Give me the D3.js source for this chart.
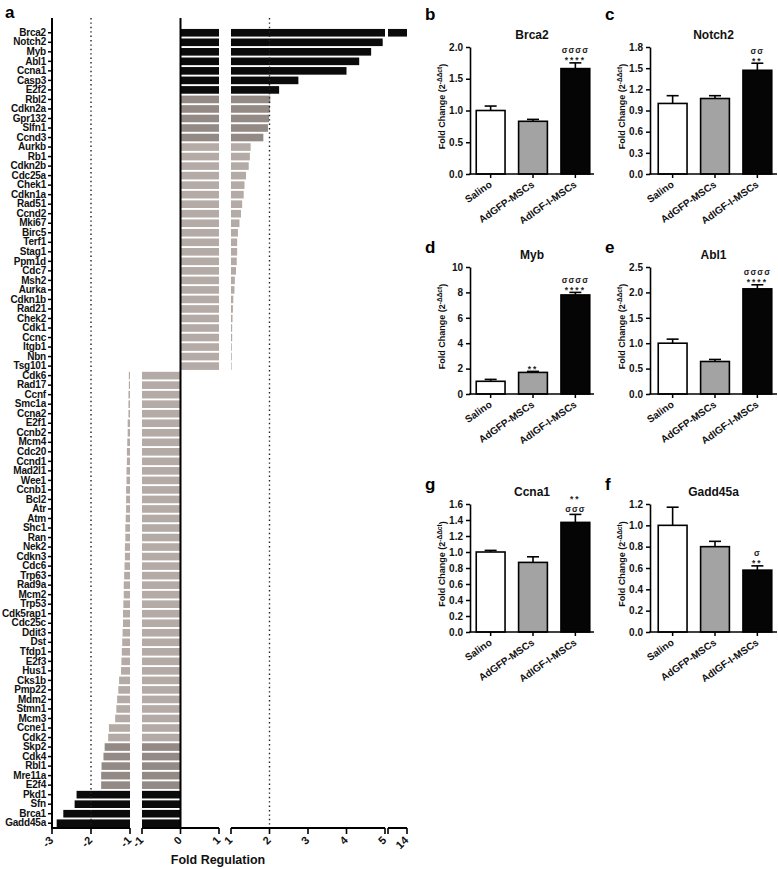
<!DOCTYPE html>
<html><head><meta charset="utf-8">
<script src="https://cdn.jsdelivr.net/npm/d3@7"></script>
<style>
body{margin:0;background:#fff;}
svg{display:block;font-family:"Liberation Sans",Arial,sans-serif;}
</style></head><body>
<svg id="c" width="778" height="869"></svg>
<script>
// ---------- Panel a data ----------
const upGenes = ["Brca2","Notch2","Myb","Abl1","Ccna1","Casp3","E2f2","Rbl2","Cdkn2a","Gpr132","Slfn1","Ccnd3","Aurkb","Rb1","Cdkn2b","Cdc25a","Chek1","Cdkn1a","Rad51","Ccnd2","Mki67","Birc5","Terf1","Stag1","Ppm1d","Cdc7","Msh2","Aurka","Cdkn1b","Rad21","Chek2","Cdk1","Ccnc","Itgb1","Nbn","Tsg101"];
const upValues = [14.0,4.94,4.64,4.33,4.0,2.75,2.25,2.02,2.01,1.99,1.96,1.84,1.51,1.49,1.46,1.39,1.35,1.33,1.29,1.26,1.22,1.18,1.16,1.16,1.15,1.13,1.10,1.09,1.06,1.05,1.04,1.03,1.03,1.02,1.02,1.01];
const downGenes = ["Cdk6","Rad17","Ccnf","Smc1a","Ccna2","E2f1","Ccnb2","Mcm4","Cdc20","Ccnd1","Mad2l1","Wee1","Ccnb1","Bcl2","Atr","Atm","Shc1","Ran","Nek2","Cdkn3","Cdc6","Trp63","Rad9a","Mcm2","Trp53","Cdk5rap1","Cdc25c","Ddit3","Dst","Tfdp1","E2f3","Hus1","Cks1b","Pmp22","Mdm2","Stmn1","Mcm3","Ccne1","Cdk2","Skp2","Cdk4","Rbl1","Mre11a","E2f4","Pkd1","Sfn","Brca1","Gadd45a"];
const downValues = [-1.03,-1.03,-1.04,-1.04,-1.04,-1.06,-1.06,-1.07,-1.08,-1.08,-1.09,-1.09,-1.10,-1.10,-1.10,-1.11,-1.12,-1.12,-1.13,-1.13,-1.14,-1.15,-1.16,-1.16,-1.17,-1.18,-1.18,-1.19,-1.20,-1.21,-1.22,-1.23,-1.28,-1.30,-1.33,-1.35,-1.38,-1.54,-1.56,-1.65,-1.68,-1.73,-1.74,-1.74,-2.37,-2.42,-2.71,-2.88];
const segL1Ticks = [-3,-2,-1];
const segL2Ticks = [-1,0,1];
const segR1Ticks = [1,2,3,4,5];
const segR2Ticks = [14];

// ---------- Bar panels data ----------
const groups = ["Salino","AdGFP-MSCs","AdIGF-I-MSCs"];
const brca2Mean = [1.00,0.83,1.66],  brca2Err = [0.07,0.03,0.09];
const notch2Mean = [1.00,1.07,1.47], notch2Err = [0.11,0.04,0.10];
const mybMean = [1.00,1.70,7.80],    mybErr = [0.15,0.08,0.20];
const abl1Mean = [1.00,0.64,2.07],   abl1Err = [0.08,0.04,0.08];
const ccna1Mean = [1.00,0.87,1.37],  ccna1Err = [0.02,0.07,0.10];
const gadd45aMean = [1.00,0.80,0.58],gadd45aErr = [0.17,0.05,0.04];
const brca2Notes = [[],[],["σσσσ","****"]];
const notch2Notes = [[],[],["σσ","**"]];
const mybNotes = [[],["**"],["σσσσ","****"]];
const abl1Notes = [[],[],["σσσσ","****"]];
const ccna1Notes = [[],[],["**","σσσ"]];
const gadd45aNotes = [[],[],["σ","**"]];

const svg = d3.select("#c");

// ================= Panel a =================
const genes = upGenes.concat(downGenes);
const values = upValues.concat(downValues);
const rows = genes.map((g,i)=>({gene:g,value:values[i]}));
const y = d3.scaleBand().domain(genes).range([28,828]).paddingInner(0.2).paddingOuter(0.1);
const xL1 = d3.scaleLinear().domain([-3,-1]).range([52,130]);
const xL2 = d3.scaleLinear().domain([-1,1]).range([142,219]);
const xR1 = d3.scaleLinear().domain([1,5]).range([231,385]);
const xR2 = d3.scaleLinear().domain([13.5,14]).range([388,407]);
const shade = v => Math.abs(v) > 2.1 ? "#0b0b0b" : (Math.abs(v) > 1.6 ? "#938a86" : "#b4aba7");
const axisY = 828;
const gA = svg.append("g");

const pieces = [];
rows.forEach(r=>{
  const v = r.value;
  if (v > 0) {
    pieces.push({r, s:xL2, a:0, b:Math.min(v,1)});
    if (v > 1) pieces.push({r, s:xR1, a:1, b:Math.min(v,5)});
    if (v > 13.5) pieces.push({r, s:xR2, a:13.5, b:Math.min(v,14)});
  } else {
    pieces.push({r, s:xL2, a:Math.max(v,-1), b:0});
    if (v < -1) pieces.push({r, s:xL1, a:Math.max(v,-3), b:-1});
  }
});
gA.selectAll("rect.bar").data(pieces).join("rect")
  .attr("x", d=>d.s(d.a)).attr("width", d=>Math.max(0.6, d.s(d.b)-d.s(d.a)))
  .attr("y", d=>y(d.r.gene)).attr("height", y.bandwidth())
  .attr("fill", d=>shade(d.r.value));

// dotted lines at -2 and 2
[[xL1,-2],[xR1,2]].forEach(([s,v])=>{
  gA.append("line").attr("x1",s(v)).attr("x2",s(v)).attr("y1",18).attr("y2",axisY)
    .attr("stroke","#222").attr("stroke-width",1.4).attr("stroke-dasharray","1.4,3");
});
// zero line
gA.append("line").attr("x1",xL2(0)).attr("x2",xL2(0)).attr("y1",18).attr("y2",axisY)
  .attr("stroke","#000").attr("stroke-width",2);

// y axis
const yAx = gA.append("g").attr("transform","translate(52,0)")
  .call(d3.axisLeft(y).tickSize(4).tickPadding(2).tickSizeOuter(0));
yAx.select(".domain").remove();
yAx.selectAll(".tick line").attr("stroke","#000").attr("stroke-width",1.5);
yAx.selectAll(".tick text").attr("font-size","10px").attr("font-weight","bold")
  .attr("letter-spacing","-0.2px").attr("fill","#111").attr("font-family","Liberation Sans, Arial, sans-serif");
gA.append("line").attr("x1",52).attr("x2",52).attr("y1",18).attr("y2",axisY+1)
  .attr("stroke","#000").attr("stroke-width",2);

// x axis segments
function seg(s, ticks, extra){
  const g = gA.append("g").attr("transform",`translate(0,${axisY})`);
  g.append("line").attr("x1",s.range()[0]).attr("x2",s.range()[1]).attr("stroke","#000").attr("stroke-width",2);
  const tv = ticks.concat(extra||[]);
  g.selectAll("line.t").data(tv).join("line").attr("x1",d=>s(d)).attr("x2",d=>s(d))
    .attr("y1",0).attr("y2",6).attr("stroke","#000").attr("stroke-width",1.6);
  g.selectAll("text").data(ticks).join("text")
    .attr("transform",d=>`translate(${s(d)+2},13) rotate(-45)`)
    .attr("text-anchor","end").attr("font-size","11px").attr("font-weight","bold").attr("fill","#111")
    .text(d=>d<0 ? "-"+Math.abs(d) : d);
}
seg(xL1, segL1Ticks);
seg(xL2, segL2Ticks);
seg(xR1, segR1Ticks);
seg(xR2, segR2Ticks, [13.5]);
gA.append("text").attr("x",218).attr("y",864).attr("text-anchor","middle")
  .attr("font-size","12.5px").attr("font-weight","bold").attr("fill","#111").text("Fold Regulation");
svg.append("text").attr("x",5).attr("y",18).attr("font-size","17px").attr("font-weight","bold").text("a");

// ================= Bar panels =================
const cols = [{axis:470, r:[472,594], end:594, letterX:425}, {axis:650, r:[654,776], end:777, letterX:605}];
const rowsY = [{top:47, bot:174, letter:20}, {top:267, bot:394, letter:253}, {top:504, bot:632, letter:490}];
const panels = [
  {letter:"b", gene:"Brca2", col:0, row:0, mean:brca2Mean, err:brca2Err, notes:brca2Notes, max:2.0, step:0.5, fmt:".1f"},
  {letter:"c", gene:"Notch2", col:1, row:0, mean:notch2Mean, err:notch2Err, notes:notch2Notes, max:1.8, step:0.3, fmt:".1f"},
  {letter:"d", gene:"Myb", col:0, row:1, mean:mybMean, err:mybErr, notes:mybNotes, max:10, step:2, fmt:"d"},
  {letter:"e", gene:"Abl1", col:1, row:1, mean:abl1Mean, err:abl1Err, notes:abl1Notes, max:2.5, step:0.5, fmt:".1f"},
  {letter:"g", gene:"Ccna1", col:0, row:2, mean:ccna1Mean, err:ccna1Err, notes:ccna1Notes, max:1.6, step:0.2, fmt:".1f"},
  {letter:"f", gene:"Gadd45a", col:1, row:2, mean:gadd45aMean, err:gadd45aErr, notes:gadd45aNotes, max:1.2, step:0.2, fmt:".1f"}
];
const fills = ["#ffffff","#a3a3a3","#050505"];
const noteSize = 8.5, noteGap = 10;

panels.forEach(p=>{
  const c = cols[p.col], rw = rowsY[p.row];
  const g = svg.append("g");
  const x = d3.scaleBand().domain(groups).range(c.r).paddingInner(0.32).paddingOuter(0.1);
  const yy = d3.scaleLinear().domain([0,p.max]).range([rw.bot,rw.top]);
  const tv = d3.range(0, p.max + p.step/2, p.step);
  const data = groups.map((gName,i)=>({g:gName, m:p.mean[i], e:p.err[i], notes:p.notes[i], fill:fills[i]}));

  // bars
  g.selectAll("rect").data(data).join("rect")
    .attr("x",d=>x(d.g)).attr("width",x.bandwidth())
    .attr("y",d=>yy(d.m)).attr("height",d=>rw.bot-yy(d.m))
    .attr("fill",d=>d.fill).attr("stroke","#000").attr("stroke-width",1.6);
  // error bars + annotations
  data.forEach(d=>{
    const cx = x(d.g)+x.bandwidth()/2;
    const et = yy(d.m+d.e);
    g.append("line").attr("x1",cx).attr("x2",cx).attr("y1",yy(d.m)).attr("y2",et).attr("stroke","#000").attr("stroke-width",1.6);
    g.append("line").attr("x1",cx-6).attr("x2",cx+6).attr("y1",et).attr("y2",et).attr("stroke","#000").attr("stroke-width",1.6);
    const lines = d.notes.slice().reverse();
    let base = null;
    lines.forEach((t,k)=>{
      const isStar = t.indexOf("*")>=0;
      if (k===0) base = isStar ? et + 0.6 : et - 2;
      else base = base - noteGap;
      g.append("text").attr("x",cx).attr("y",base).attr("text-anchor","middle")
        .attr("font-size",noteSize+"px").attr("font-weight","bold")
        .attr("letter-spacing", isStar ? "2px" : "1px").attr("fill","#222").text(t);
    });
  });
  // y axis
  const ya = g.append("g").attr("transform",`translate(${c.axis},0)`)
    .call(d3.axisLeft(yy).tickValues(tv).tickFormat(d3.format(p.fmt)).tickSize(4).tickPadding(3).tickSizeOuter(0));
  ya.select(".domain").attr("stroke-width",1.6);
  ya.selectAll(".tick line").attr("stroke-width",1.5);
  ya.selectAll(".tick text").attr("font-size","10px").attr("font-weight","bold").attr("fill","#111")
    .attr("font-family","Liberation Sans, Arial, sans-serif");
  // x axis line
  g.append("line").attr("x1",c.axis-0.8).attr("x2",c.end).attr("y1",rw.bot).attr("y2",rw.bot).attr("stroke","#000").attr("stroke-width",1.6);
  g.selectAll("line.xt").data(groups).join("line").attr("class","xt")
    .attr("x1",d=>x(d)+x.bandwidth()/2).attr("x2",d=>x(d)+x.bandwidth()/2)
    .attr("y1",rw.bot).attr("y2",rw.bot+4).attr("stroke","#000").attr("stroke-width",1.5);
  g.selectAll("text.xl").data(groups).join("text").attr("class","xl")
    .attr("transform",d=>`translate(${x(d)+x.bandwidth()/2+2},${rw.bot+12}) rotate(-35)`)
    .attr("text-anchor","end").attr("font-size","10px").attr("font-weight","bold").attr("fill","#111").text(d=>d);
  // y title
  const yt = g.append("text").attr("transform",`translate(${c.axis-28},${(rw.top+rw.bot)/2-4}) rotate(-90)`)
    .attr("text-anchor","middle").attr("dy","0.35em").attr("font-size","9px").attr("font-weight","bold").attr("fill","#111");
  yt.append("tspan").text("Fold Change  (2");
  yt.append("tspan").attr("dy","-0.5em").attr("font-size","6.5px").text("-ΔΔct");
  yt.append("tspan").attr("dy","0.5em").text(")");
  // title
  g.append("text").attr("x",(c.axis+c.end)/2).attr("y",rw.top-8).attr("text-anchor","middle")
    .attr("font-size","12px").attr("font-weight","bold").attr("fill","#111").text(p.gene);
  // letter
  svg.append("text").attr("x",c.letterX).attr("y",rw.letter).attr("font-size","17px").attr("font-weight","bold").text(p.letter);
});
</script>
</body></html>
